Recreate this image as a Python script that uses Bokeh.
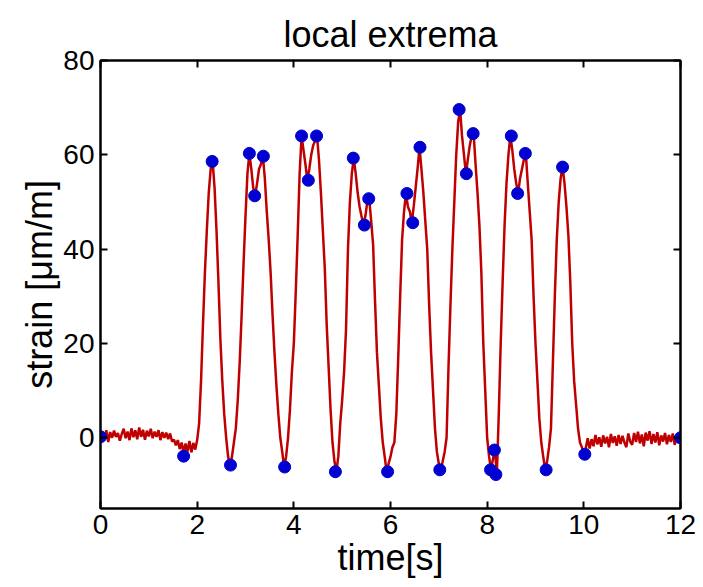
from bokeh.plotting import figure
from bokeh.models import Range1d, FixedTicker, LinearAxis, ColumnDataSource
from bokeh.embed import file_html
from bokeh.resources import INLINE
import numpy as np

# ---- data ----
sample_step = 0.04  # seconds between samples of the strain record

strain_flat_start = [
    0.2, 1.3, -0.2, 1.6, -0.9, 1.2, 0.0, 1.5, 0.2, 1.0,
    -0.6, 0.8, 1.9, -0.1, 1.3, -0.5, 2.0, 0.1, 1.6, -0.3,
    2.2, 0.2, 1.7, -0.4, 1.5, 0.3, 1.9, -0.1, 1.3, 0.2,
    1.6, -0.5, 1.2, 0.0, 1.1, -0.3, 0.9, -0.8, -0.4, -1.6,
    -0.5, -2.4, -1.0, -3.3, -1.2, -2.9, -0.7, -3.1, -1.1, -2.5,
    -0.5,
]
strain_pulses = [
    3, 12, 24, 35, 44, 52, 57, 58.6, 53, 44,
    33, 21, 12, 5, 0, -4, -5.8, -4, -1, 2,
    8, 16, 26, 37, 47, 56, 60.3, 57, 53, 51.3,
    54, 57, 58, 59.7, 55, 48, 42, 35, 26, 18,
    11, 5, 0, -3, -6.2, -4, 0, 6, 14, 20,
    31, 43, 56, 64, 61, 58, 54.6, 57, 60, 62,
    63, 64, 59, 52, 44, 36, 24, 15, 6, -1,
    -5, -7.2, -4, 3, 8, 14, 23, 40, 50, 56,
    59.3, 56, 52, 49, 47, 45.1, 47, 50, 50.7, 46,
    41, 29, 18, 11, 4, -1, -4, -7.2, -5.5, -4,
    -2, -1, 5, 17, 30, 42, 48, 51.8, 49, 48,
    45.6, 49, 53, 57, 61.6, 57, 52, 46, 40, 28,
    18, 10, 2, -3, -5.5, -6.8, -5, -3, 0, 15,
    28, 40, 50, 60, 67, 69.6, 64, 60, 56, 59,
    62, 64, 64.5, 58, 52, 45, 35, 20, 10, 0,
    -4, -6.8, -4.5, -2.6, -7.8, 5, 20, 33, 45, 54,
    60, 64, 61, 57, 54, 51.8, 55, 57, 59, 60.3,
    54, 48, 42, 30, 20, 12, 4, -1, -4, -6.8,
    -5, -2, 2, 16, 30, 42, 50, 55, 57.4, 54,
    49, 43, 33, 20, 12, 7, 2, -1, -2, -3.5,
]
strain_flat_end = [
    -2.2, -0.1, -2.3, -0.3, -1.8, 0.6, -1.4, 0.1, -1.9, 0.5,
    -1.2, 0.2, -2.0, 0.8, -1.1, 0.3, -1.7, 0.6, -1.3, 0.4,
    -1.0, -2.0, 0.9, -0.8, -1.5, 1.0, -0.9, 1.3, -1.2, 0.7,
    -1.8, 1.1, -0.6, 1.4, -1.3, 0.8, -1.0, 1.2, -1.6, 0.5,
    -0.8, 1.0, -1.4, 0.6, -0.9, 0.9, -1.5, 0.2, -1.1, 0.0,
]

extrema_t = [0.0, 1.72, 2.31, 2.69, 3.08, 3.19, 3.37, 3.81, 4.16, 4.30,
             4.47, 4.86, 5.23, 5.46, 5.55, 5.94, 6.34, 6.46, 6.61, 7.02,
             7.42, 7.57, 7.71, 8.07, 8.15, 8.18, 8.50, 8.63, 8.79, 9.22,
             9.56, 10.02, 12.0]
extrema_v = [0.2, -3.9, 58.6, -5.8, 60.3, 51.3, 59.7, -6.2, 64.0, 54.6,
             64.0, -7.2, 59.3, 45.1, 50.7, -7.2, 51.8, 45.6, 61.6, -6.8,
             69.6, 56.0, 64.5, -6.8, -2.6, -7.8, 64.0, 51.8, 60.3, -6.8,
             57.4, -3.5, 0.0]

x_ticks = [0, 2, 4, 6, 8, 10, 12]
y_ticks = [0, 20, 40, 60, 80]
title_text = "local extrema"

# ---- build ----
strain = strain_flat_start + strain_pulses + strain_flat_end
time = np.arange(len(strain)) * sample_step

FONT = "Liberation Sans"

p = figure(width=703, height=587, output_backend="svg", toolbar_location=None,
           x_range=Range1d(0, 12), y_range=Range1d(-15, 80),
           x_axis_location=None, y_axis_location=None)
p.min_border_left = 100
p.min_border_right = 23
p.min_border_top = 60
p.min_border_bottom = 79
p.background_fill_color = "white"
p.border_fill_color = "white"
p.xgrid.visible = False
p.ygrid.visible = False
p.outline_line_color = "black"
p.outline_line_width = 2

p.title.text = title_text
p.title.align = "center"
p.title.text_font = FONT
p.title.text_font_size = "36px"
p.title.text_font_style = "normal"
p.title.text_color = "black"
p.title.standoff = 12


def make_axis(ticks, label=None, show_labels=True):
    ax = LinearAxis(ticker=FixedTicker(ticks=ticks))
    ax.axis_line_color = "black"
    ax.axis_line_width = 2
    ax.major_tick_in = 7
    ax.major_tick_out = 0
    ax.major_tick_line_color = "black"
    ax.major_tick_line_width = 2
    ax.minor_tick_line_color = None
    ax.major_label_text_font = FONT
    if show_labels:
        ax.major_label_text_color = "black"
        ax.major_label_text_font_size = "28px"
        ax.major_label_standoff = 6
    else:
        ax.major_label_text_color = None
        ax.major_label_text_alpha = 0
        ax.major_label_text_font_size = "1px"
        ax.major_label_standoff = 0
    if label:
        ax.axis_label = label
        ax.axis_label_text_font = FONT
        ax.axis_label_text_font_size = "36px"
        ax.axis_label_text_font_style = "normal"
        ax.axis_label_text_color = "black"
        ax.axis_label_standoff = 0
    return ax


p.add_layout(make_axis(x_ticks, "time[s]"), "below")
p.add_layout(make_axis(y_ticks, "strain [\u03bcm/m]"), "left")
p.add_layout(make_axis(x_ticks, show_labels=False), "above")
p.add_layout(make_axis(y_ticks, show_labels=False), "right")

line_src = ColumnDataSource(data=dict(t=time, v=strain))
dot_src = ColumnDataSource(data=dict(t=extrema_t, v=extrema_v))

p.line("t", "v", source=line_src, line_color="#c00000", line_width=2.5)
p.scatter("t", "v", source=dot_src, size=12, fill_color="#0000d0",
          line_color="#0000d0", line_width=1)

open("out.html", "w").write(file_html(p, INLINE))
